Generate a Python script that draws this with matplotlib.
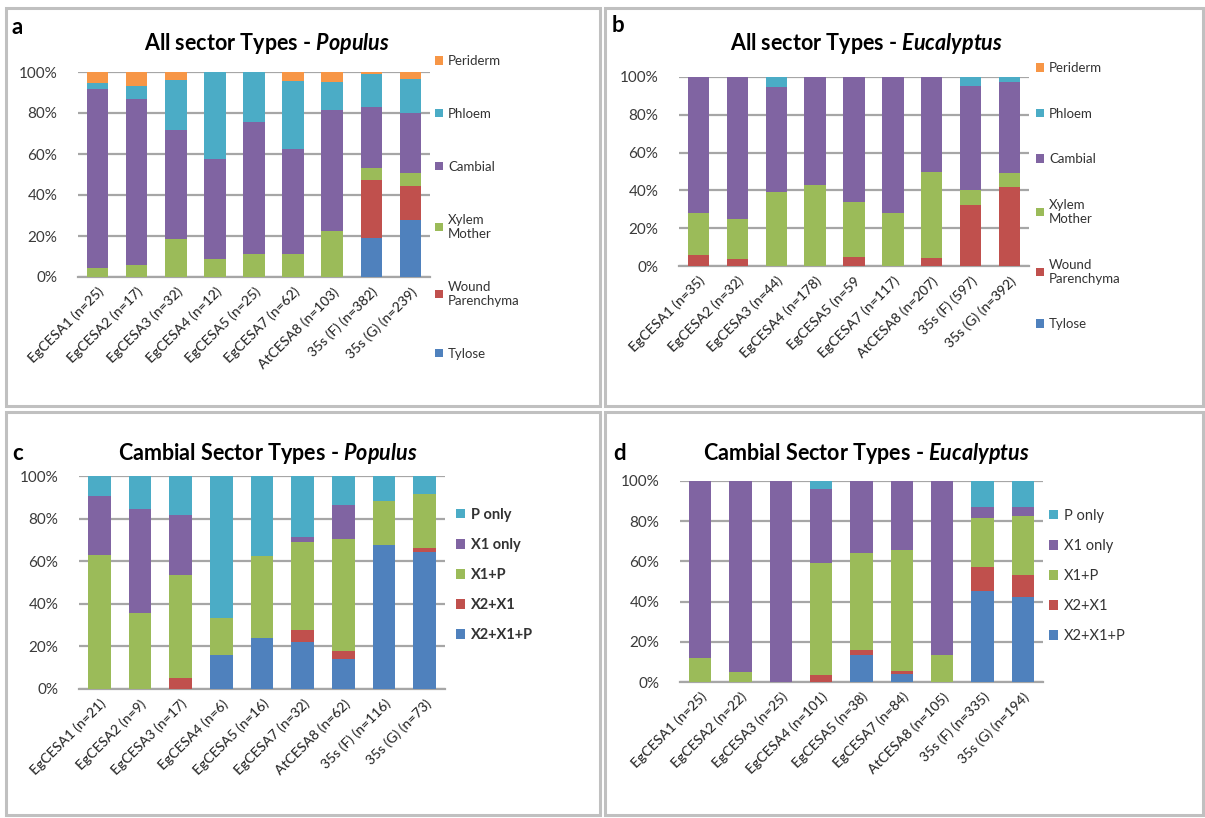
import matplotlib
matplotlib.use("Agg")
import matplotlib.pyplot as plt
from matplotlib.patches import Rectangle
import numpy as np

plt.rcParams['font.family'] = ['Lato', 'DejaVu Sans']
plt.rcParams['mathtext.fontset'] = 'custom'
plt.rcParams['mathtext.it'] = 'Lato:italic:bold'
plt.rcParams['mathtext.rm'] = 'Lato:bold'

# Excel 2007 palette
c_blue, c_red, c_green = "#4F81BD", "#C0504D", "#9BBB59"
c_purple, c_aqua, c_orange = "#8064A2", "#4BACC6", "#F79646"

# --- dane ---
labels_a = ["EgCESA1 (n=25)", "EgCESA2 (n=17)", "EgCESA3 (n=32)", "EgCESA4 (n=12)", "EgCESA5 (n=25)",
            "EgCESA7 (n=62)", "AtCESA8 (n=103)", "35s (F) (n=382)", "35s (G) (n=239)"]
labels_b = ["EgCESA1 (n=35)", "EgCESA2 (n=32)", "EgCESA3 (n=44)", "EgCESA4 (n=178)", "EgCESA5 (n=59",
            "EgCESA7 (n=117)", "AtCESA8 (n=207)", "35s (F) (597)", "35s (G) (n=392)"]
labels_c = ["EgCESA1 (n=21)", "EgCESA2 (n=9)", "EgCESA3 (n=17)", "EgCESA4 (n=6)", "EgCESA5 (n=16)",
            "EgCESA7 (n=32)", "AtCESA8 (n=62)", "35s (F) (n=116)", "35s (G) (n=73)"]
labels_d = ["EgCESA1 (n=25)", "EgCESA2 (n=22)", "EgCESA3 (n=25)", "EgCESA4 (n=101)", "EgCESA5 (n=38)",
            "EgCESA7 (n=84)", "AtCESA8 (n=105)", "35s (F) (n=335)", "35s (G) (n=194)"]

all_types = ["Tylose", "Wound\nParenchyma", "Xylem\nMother", "Cambial", "Phloem", "Periderm"]
cambial_types = ["X2+X1+P", "X2+X1", "X1+P", "X1 only", "P only"]

# a - Populus, all sectors (%)
a_tylose   = [0, 0, 0, 0, 0, 0, 0, 19, 28]
a_wound    = [0, 0, 0, 0, 0, 0, 0, 28.3, 16.4]
a_xylem    = [4.5, 6, 18.6, 8.8, 11, 11, 22.5, 5.7, 6.2]
a_cambial  = [87, 81, 53, 49, 64.5, 51.3, 59, 29.9, 29.4]
a_phloem   = [3.3, 6.3, 24.6, 42.2, 24.5, 33.5, 13.8, 16.3, 16.7]
a_periderm = [5.2, 6.7, 3.8, 0, 0, 4.2, 4.7, 0.8, 3.3]

# b - Eucalyptus, all sectors (%)
b_tylose   = [0, 0, 0, 0, 0, 0, 0, 0, 0]
b_wound    = [6, 3.9, 0, 0, 4.8, 0, 4.4, 32.2, 42]
b_xylem    = [22.1, 21.2, 38.9, 42.8, 28.8, 27.8, 45.2, 8, 7]
b_cambial  = [71.9, 74.9, 55.8, 57.2, 66.4, 72.2, 50.4, 55.2, 48.3]
b_phloem   = [0, 0, 5.3, 0, 0, 0, 0, 4.6, 2.7]
b_periderm = [0, 0, 0, 0, 0, 0, 0, 0, 0]

# c - Populus, cambial sectors (%)
c_x2x1p = [0, 0, 0, 16, 24, 22.2, 13.9, 67.5, 64.4]
c_x2x1  = [0, 0, 5.3, 0, 0, 5.5, 4.1, 0, 1.9]
c_x1p   = [63.1, 35.5, 48.3, 17.1, 38.3, 41.4, 52.3, 20.6, 25.4]
c_x1    = [27.5, 49, 28.3, 0, 0, 2.3, 16.3, 0, 0]
c_p     = [9.4, 15.5, 18.1, 66.9, 37.7, 28.6, 13.4, 11.9, 8.3]

# d - Eucalyptus, cambial sectors (%)
d_x2x1p = [0, 0, 0, 0, 13.3, 3.8, 0, 45.1, 42.3]
d_x2x1  = [0, 0, 0, 3.3, 2.8, 1.5, 0, 12.1, 10.8]
d_x1p   = [12.1, 5, 0, 55.9, 48.2, 60.2, 13.3, 24.6, 29.5]
d_x1    = [87.9, 95, 100, 36.7, 35.7, 34.5, 86.7, 5.3, 4.5]
d_p     = [0, 0, 0, 4.1, 0, 0, 0, 12.9, 12.9]

W, H = 1205, 818
fig = plt.figure(figsize=(W / 100, H / 100), dpi=100)


def px_axes(left, right, top, bottom):
    return fig.add_axes([left / W, 1 - bottom / H, (right - left) / W, (bottom - top) / H])


def panel(ax, labels, series, names, colors, leg_xy, leg_size, leg_space, leg_bold=False):
    x = np.arange(len(labels))
    bottom = np.zeros(len(labels))
    handles = []
    for vals, name, col in zip(series, names, colors):
        b = ax.bar(x, vals, 0.55, bottom=bottom, color=col, label=name, zorder=3)
        bottom += np.array(vals)
        handles.append(b)
    ax.set_xlim(-0.5, len(labels) - 0.5)
    ax.set_ylim(0, 100)
    ax.set_yticks([0, 20, 40, 60, 80, 100])
    ax.set_yticklabels(["0%", "20%", "40%", "60%", "80%", "100%"], fontsize=11, color="#3a3a3a")
    ax.set_xticks(x)
    ax.set_xticklabels(labels, rotation=45, ha="right", rotation_mode="anchor", fontsize=10,
                       color="#2a2a2a", fontweight="medium")
    ax.tick_params(length=0, axis="y", pad=15)
    ax.tick_params(length=0, axis="x", pad=6)
    ax.grid(axis="y", color="#a6a6a6", linewidth=1.6, zorder=0)
    for s in ["top", "right", "left"]:
        ax.spines[s].set_visible(False)
    ax.spines["bottom"].set_color("#a6a6a6")
    ax.spines["bottom"].set_linewidth(1.6)
    leg = ax.legend(handles[::-1], names[::-1], loc="upper left",
                    bbox_to_anchor=(leg_xy[0] / W, 1 - leg_xy[1] / H), bbox_transform=fig.transFigure,
                    frameon=False, borderpad=0, borderaxespad=0, handlelength=0.6, handleheight=0.6,
                    handletextpad=0.4, labelspacing=leg_space,
                    prop={"size": leg_size, "weight": "bold" if leg_bold else "normal"})
    for t in leg.get_texts():
        t.set_color("#333333")


all_colors = [c_blue, c_red, c_green, c_purple, c_aqua, c_orange]
camb_colors = [c_blue, c_red, c_green, c_purple, c_aqua]

ax_a = px_axes(78, 430, 72, 277)
panel(ax_a, labels_a, [a_tylose, a_wound, a_xylem, a_cambial, a_phloem, a_periderm],
      all_types, all_colors, (435, 55), 9.5, 3.1)

ax_b = px_axes(679, 1029, 77, 266)
panel(ax_b, labels_b, [b_tylose, b_wound, b_xylem, b_cambial, b_phloem, b_periderm],
      all_types, all_colors, (1036, 62), 9.5, 2.55)

ax_c = px_axes(79, 445, 476, 689)
panel(ax_c, labels_c, [c_x2x1p, c_x2x1, c_x1p, c_x1, c_p],
      cambial_types, camb_colors, (456, 508), 10.5, 1.1, leg_bold=True)

ax_d = px_axes(680, 1043, 481, 682)
panel(ax_d, labels_d, [d_x2x1p, d_x2x1, d_x1p, d_x1, d_p],
      cambial_types, camb_colors, (1049, 509), 10.5, 1.1)

# tytuly
fig.text(267 / W, 1 - 43 / H, r"All sector Types - $\mathit{Populus}$", ha="center", va="center",
         fontsize=15.5, fontweight="bold")
fig.text(867 / W, 1 - 43 / H, r"All sector Types - $\mathit{Eucalyptus}$", ha="center", va="center",
         fontsize=15.5, fontweight="bold")
fig.text(268 / W, 1 - 453 / H, r"Cambial Sector Types - $\mathit{Populus}$", ha="center", va="center",
         fontsize=15.5, fontweight="bold")
fig.text(866 / W, 1 - 453 / H, r"Cambial Sector Types - $\mathit{Eucalyptus}$", ha="center", va="center",
         fontsize=15.5, fontweight="bold")

# litery paneli
for letter, lx, ly in [("a", 12, 27), ("b", 612, 26), ("c", 12, 453), ("d", 613, 454)]:
    fig.text(lx / W, 1 - ly / H, letter, ha="left", va="center", fontsize=16, fontweight="bold")

# ramki paneli
for (x0, y0, x1, y1) in [(6, 8, 600, 406), (605, 8, 1203, 406), (6, 412, 600, 815), (605, 412, 1203, 815)]:
    fig.add_artist(Rectangle((x0 / W, 1 - y1 / H), (x1 - x0) / W, (y1 - y0) / H,
                             transform=fig.transFigure, fill=False, edgecolor="#c0c0c0", linewidth=2.2))

fig.savefig("out.png", dpi=100)
